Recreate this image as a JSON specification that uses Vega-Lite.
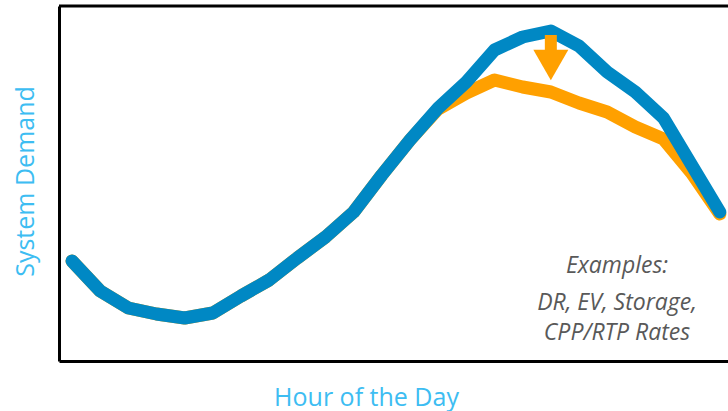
{
  "$schema": "https://vega.github.io/schema/vega-lite/v6.json",
  "width": 669,
  "height": 355,
  "autosize": "none",
  "padding": {"left": 59, "top": 6, "right": 0, "bottom": 50},
  "background": "white",
  "config": {"view": {"stroke": null}},
  "datasets": {
    "base": [
      {"hour": 0, "demand": 100}, {"hour": 1, "demand": 70}, {"hour": 2, "demand": 53},
      {"hour": 3, "demand": 47}, {"hour": 4, "demand": 43}, {"hour": 5, "demand": 48},
      {"hour": 6, "demand": 65}, {"hour": 7, "demand": 81}, {"hour": 8, "demand": 103},
      {"hour": 9, "demand": 124}, {"hour": 10, "demand": 149}, {"hour": 11, "demand": 186},
      {"hour": 12, "demand": 221}, {"hour": 13, "demand": 253}, {"hour": 14, "demand": 279},
      {"hour": 15, "demand": 311}, {"hour": 16, "demand": 324}, {"hour": 17, "demand": 330},
      {"hour": 18, "demand": 315}, {"hour": 19, "demand": 289}, {"hour": 20, "demand": 269},
      {"hour": 21, "demand": 243}, {"hour": 22, "demand": 196}, {"hour": 23, "demand": 149}
    ],
    "shifted": [
      {"hour": 0, "demand": 100}, {"hour": 1, "demand": 70}, {"hour": 2, "demand": 53},
      {"hour": 3, "demand": 47}, {"hour": 4, "demand": 43}, {"hour": 5, "demand": 48},
      {"hour": 6, "demand": 65}, {"hour": 7, "demand": 81}, {"hour": 8, "demand": 103},
      {"hour": 9, "demand": 124}, {"hour": 10, "demand": 149}, {"hour": 11, "demand": 186},
      {"hour": 12, "demand": 221}, {"hour": 13, "demand": 252}, {"hour": 14, "demand": 268},
      {"hour": 15, "demand": 281}, {"hour": 16, "demand": 274}, {"hour": 17, "demand": 269},
      {"hour": 18, "demand": 258}, {"hour": 19, "demand": 249}, {"hour": 20, "demand": 234},
      {"hour": 21, "demand": 222}, {"hour": 22, "demand": 188}, {"hour": 23, "demand": 147}
    ],
    "arrow": [
      {"hour": 17, "top": 326, "bottom": 307, "head": 296}
    ],
    "notes": [
      {"hour": 19.35, "demand": 88, "label": "Examples:"},
      {"hour": 19.35, "demand": 51, "label": "DR, EV, Storage,"},
      {"hour": 19.35, "demand": 21, "label": "CPP/RTP Rates"}
    ],
    "frame": [
      {"edge": 355}
    ]
  },
  "layer": [
    {
      "data": {"name": "shifted"},
      "mark": {"type": "line", "color": "#FFA000", "strokeWidth": 13, "strokeCap": "round", "strokeJoin": "round"},
      "encoding": {
        "x": {
          "field": "hour", "type": "quantitative",
          "scale": {"domain": [-0.4615, 23.29], "nice": false, "zero": false},
          "axis": {
            "title": "Hour of the Day", "titleFont": "Open Sans", "titleFontSize": 25, "titleFontWeight": "normal",
            "titleColor": "#3DBDF2", "titleX": 307, "titleY": 44, "titleBaseline": "alphabetic", "titleAlign": "center",
            "labels": false, "ticks": false, "grid": false,
            "domain": true, "domainColor": "black", "domainWidth": 3
          }
        },
        "y": {
          "field": "demand", "type": "quantitative",
          "scale": {"domain": [0, 355], "nice": false},
          "axis": {
            "title": "System Demand", "titleFont": "Open Sans", "titleFontSize": 25, "titleFontWeight": "normal",
            "titleColor": "#3DBDF2", "titleX": -26, "titleY": 175, "titleBaseline": "alphabetic", "titleAlign": "center", "titleAngle": -90,
            "labels": false, "ticks": false, "grid": false,
            "domain": true, "domainColor": "black", "domainWidth": 3
          }
        }
      }
    },
    {
      "data": {"name": "base"},
      "mark": {"type": "line", "color": "#0088C4", "strokeWidth": 13, "strokeCap": "round", "strokeJoin": "round"},
      "encoding": {
        "x": {"field": "hour", "type": "quantitative"},
        "y": {"field": "demand", "type": "quantitative"}
      }
    },
    {
      "data": {"name": "arrow"},
      "mark": {"type": "rule", "color": "#FFA000", "strokeWidth": 12},
      "encoding": {
        "x": {"field": "hour", "type": "quantitative"},
        "y": {"field": "top", "type": "quantitative"},
        "y2": {"field": "bottom"}
      }
    },
    {
      "data": {"name": "arrow"},
      "mark": {"type": "point", "shape": "triangle-down", "filled": true, "color": "#FFA000", "opacity": 1, "size": 1225},
      "encoding": {
        "x": {"field": "hour", "type": "quantitative"},
        "y": {"field": "head", "type": "quantitative"}
      }
    },
    {
      "data": {"name": "notes"},
      "mark": {"type": "text", "font": "Open Sans", "fontSize": 23, "fontStyle": "italic", "color": "#595959", "align": "center", "baseline": "alphabetic"},
      "encoding": {
        "x": {"field": "hour", "type": "quantitative"},
        "y": {"field": "demand", "type": "quantitative"},
        "text": {"field": "label"}
      }
    },
    {
      "data": {"name": "frame"},
      "mark": {"type": "rule", "color": "black", "strokeWidth": 3},
      "encoding": {"y": {"field": "edge", "type": "quantitative"}}
    }
  ]
}
